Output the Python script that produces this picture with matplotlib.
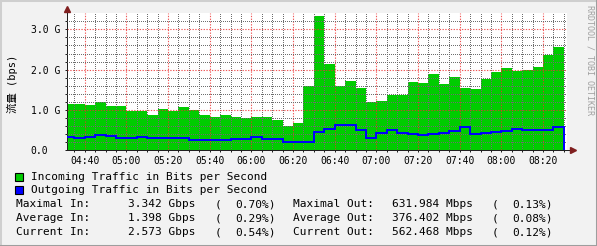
import matplotlib
matplotlib.use('Agg')
import matplotlib.pyplot as plt
import matplotlib.dates as mdates
import pandas as pd
from matplotlib.patches import Rectangle
from matplotlib.lines import Line2D

W, H = 597, 246

# 5 minute samples starting 04:30, in Gbit/s
incoming = [1.15, 1.15, 1.125, 1.2, 1.1, 1.1, 0.98, 0.98, 0.875, 1.025, 0.98, 1.075,
            1.0, 0.875, 0.825, 0.875, 0.815, 0.80, 0.815, 0.815, 0.75, 0.60, 0.665, 1.6,
            3.342, 2.15, 1.6, 1.725, 1.54, 1.2, 1.23, 1.375, 1.375, 1.7, 1.675, 1.9,
            1.65, 1.825, 1.55, 1.525, 1.775, 1.95, 2.05, 1.975, 2.0, 2.075, 2.375, 2.573]
outgoing = [0.325, 0.30, 0.325, 0.367, 0.35, 0.30, 0.30, 0.325, 0.30, 0.30, 0.30, 0.30,
            0.25, 0.25, 0.25, 0.25, 0.275, 0.275, 0.317, 0.275, 0.275, 0.19, 0.19, 0.19,
            0.44, 0.525, 0.632, 0.617, 0.5, 0.30, 0.417, 0.5, 0.417, 0.39, 0.367, 0.39,
            0.417, 0.467, 0.567, 0.39, 0.417, 0.44, 0.467, 0.517, 0.49, 0.49, 0.49, 0.562]
start_time = '2000-01-01 04:30'
view_start = '2000-01-01 04:31:30'
view_end = '2000-01-01 08:31:30'

ytick_vals = [0, 1, 2, 3]
ytick_labels = ['0.0', '1.0 G', '2.0 G', '3.0 G']

legend_labels = ['Incoming Traffic in Bits per Second', 'Outgoing Traffic in Bits per Second']
stat_names = ['Maximal', 'Average', 'Current']
in_vals = ['3.342 Gbps', '1.398 Gbps', '2.573 Gbps']
in_pct = ['0.70%)', '0.29%)', '0.54%)']
out_vals = ['631.984 Mbps', '376.402 Mbps', '562.468 Mbps']
out_pct = ['0.13%)', '0.08%)', '0.12%)']

# rrdtool default colours
BACK = '#f2f2f2'
GREEN = '#00cc00'
BLUE = '#0000ff'
ARROW = '#801f1f'
AXIS = '#1f1f1f'

plt.rcParams['font.family'] = 'DejaVu Sans Mono'

def fx(px):
    return px / W

def fy(py):
    return 1 - py / H

fig = plt.figure(figsize=(W / 100, H / 100), dpi=100, facecolor=BACK)
ax = fig.add_axes([fx(67), fy(150), 500 / W, 136.7 / H])
ax.set_facecolor('white')

edges = mdates.date2num(pd.date_range(start_time, periods=len(incoming) + 1, freq='5min'))
ax.stairs(incoming, edges, fill=True, color=GREEN, linewidth=0, zorder=1)
ax.stairs(outgoing, edges, color=BLUE, linewidth=1.4, zorder=3)

ax.set_xlim(mdates.date2num(pd.Timestamp(view_start)), mdates.date2num(pd.Timestamp(view_end)))
ax.set_ylim(0, 3.4)

ax.xaxis.set_major_locator(mdates.MinuteLocator(byminute=[0, 20, 40]))
ax.xaxis.set_minor_locator(mdates.MinuteLocator(byminute=[5, 10, 15, 25, 30, 35, 45, 50, 55]))
ax.xaxis.set_major_formatter(mdates.DateFormatter('%H:%M'))
ax.set_yticks(ytick_vals)
ax.set_yticklabels(ytick_labels)
ax.set_yticks([v / 5 for v in range(0, 17) if v % 5], minor=True)

# dotted grid drawn over the data, as rrdtool does
ax.set_axisbelow(False)
ax.grid(which='minor', color='#6e6e6e', linewidth=0.72,
        linestyle=(0, (1, 2)), antialiased=False, zorder=2.4)
ax.grid(which='major', color='#ec3030', alpha=0.8, linewidth=0.8,
        linestyle=(0, (1.2, 1.3)), zorder=2.5)

ax.tick_params(axis='both', which='both', length=1.5, width=0.72, color=AXIS, labelsize=7)
ax.tick_params(axis='x', which='major', pad=2.5)
ax.tick_params(axis='y', which='major', pad=24.7)
for lab in ax.get_yticklabels():
    lab.set_horizontalalignment('left')

for side in ['top', 'right']:
    ax.spines[side].set_visible(False)
ax.spines['left'].set_color(AXIS)
ax.spines['bottom'].set_color(AXIS)
ax.spines['left'].set_linewidth(0.72)
ax.spines['bottom'].set_linewidth(0.72)

# arrows at the axis ends
ax.plot([0, 0], [1, 1 + 3 / 136.7], color=AXIS, lw=0.72, transform=ax.transAxes, clip_on=False)
ax.plot([1, 1 + 3 / 500], [0, 0], color=AXIS, lw=0.72, transform=ax.transAxes, clip_on=False)
ax.plot(0, 1 + 4 / 136.7, marker='^', color=ARROW, markersize=4, transform=ax.transAxes, clip_on=False)
ax.plot(1 + 6 / 500, 0, marker='>', color=ARROW, markersize=4, transform=ax.transAxes, clip_on=False)

# vertical axis title and watermark
fig.text(fx(12), fy(84), '流量 (bps)', rotation=90, ha='center', va='center', fontsize=7.5,
         family=['DejaVu Sans Mono', 'Noto Sans CJK SC'])
fig.text(fx(590), fy(60), 'RRDTOOL / TOBI OETIKER', rotation=270, ha='center', va='center',
         fontsize=6, color='#a0a0a0')

# legend
for i, (label, col) in enumerate(zip(legend_labels, [GREEN, BLUE])):
    y = 176.7 + i * 13.6
    fig.patches.append(Rectangle((fx(15), fy(y + 4)), 8 / W, 8 / H, transform=fig.transFigure,
                                 facecolor=col, edgecolor='black', linewidth=0.8))
    fig.text(fx(31), fy(y), label, ha='left', va='center', fontsize=8)

# statistics rows
for i in range(3):
    y = 204.3 + i * 13.9
    fig.text(fx(16), fy(y), stat_names[i] + ' In:', ha='left', va='center', fontsize=8)
    fig.text(fx(128.3), fy(y), in_vals[i], ha='left', va='center', fontsize=8)
    fig.text(fx(215), fy(y), '(', ha='left', va='center', fontsize=8)
    fig.text(fx(276), fy(y), in_pct[i], ha='right', va='center', fontsize=8)
    fig.text(fx(292.7), fy(y), stat_names[i] + ' Out:', ha='left', va='center', fontsize=8)
    fig.text(fx(391.7), fy(y), out_vals[i], ha='left', va='center', fontsize=8)
    fig.text(fx(491.7), fy(y), '(', ha='left', va='center', fontsize=8)
    fig.text(fx(553), fy(y), out_pct[i], ha='right', va='center', fontsize=8)

# 3d frame around the image
fig.lines.append(Line2D([0, 0, 1], [0, 1, 1], transform=fig.transFigure, color='#cfcfcf', lw=2.2))
fig.lines.append(Line2D([0, 1, 1], [0, 0, 1], transform=fig.transFigure, color='#9e9e9e', lw=2.2))

fig.savefig('out.png', dpi=100, facecolor=BACK)
